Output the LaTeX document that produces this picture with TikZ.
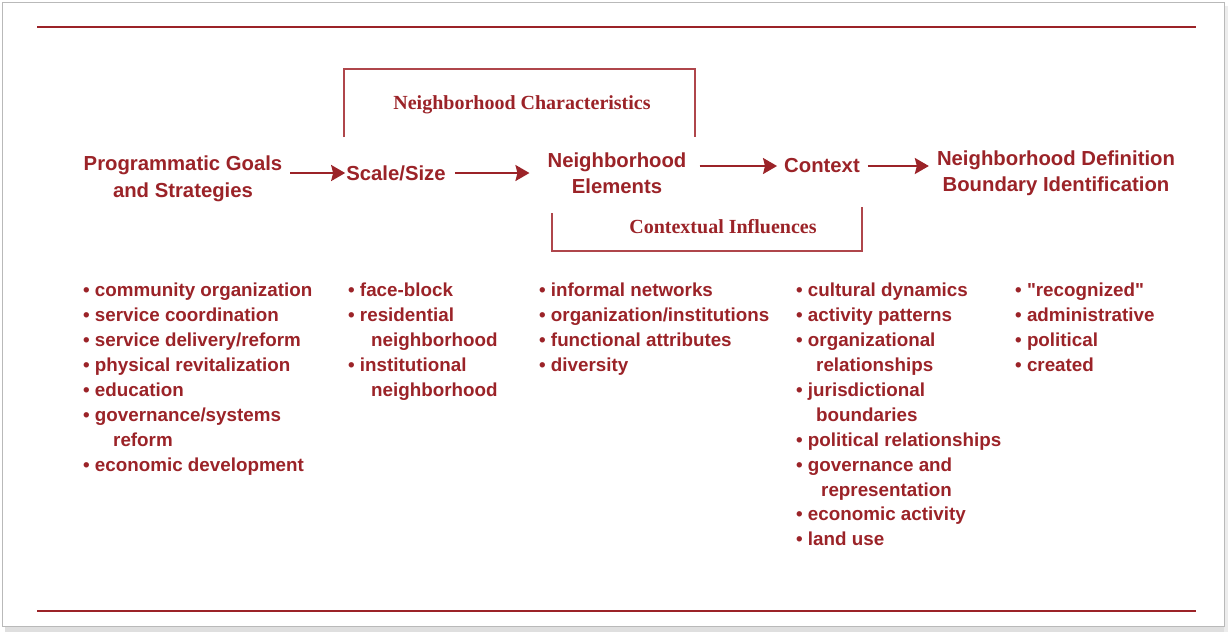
\documentclass[tikz,border=0pt]{standalone}
\usepackage{fontspec}
\setmainfont{Liberation Sans}[Ligatures=TeXOff]
\newfontfamily\serifb{Liberation Serif}
\usetikzlibrary{arrows.meta}
\definecolor{dred}{RGB}{155,35,40}
\definecolor{lred}{RGB}{175,70,75}
\begin{document}
\begin{tikzpicture}[x=1pt,y=-1pt,
  head/.style={font=\fontsize{20.3}{26.5}\selectfont\bfseries, text=dred, align=center, inner sep=0pt},
  lab/.style={font=\fontsize{20}{22}\serifb\bfseries, text=dred, inner sep=0pt},
  lst/.style={font=\fontsize{18.8}{24.9}\selectfont\bfseries, text=dred, align=left, anchor=north west, inner sep=0pt},
  arr/.style={draw=dred, line width=2pt, -{Stealth[length=14pt,width=16pt,inset=2pt]}},
  rulel/.style={draw=dred, line width=2.3pt},
  brk/.style={draw=lred, line width=1.4pt}]
\useasboundingbox (0,0) rectangle (1228,633);
\fill[white] (0,0) rectangle (1228,633);
% frame and shadow
\fill[gray!25] (5,627) rectangle (1227,632);
\fill[gray!15] (1224,6) rectangle (1228,632);
\draw[gray!55, line width=1pt] (2.5,2.5) rectangle (1224,626.5);
% rules
\draw[rulel] (37,27) -- (1196,27);
\draw[rulel] (37,611) -- (1196,611);
% bracket labels
\node[lab] (nc) at (522,104.5) {Neighborhood Characteristics};
\node[lab] (ci) at (723,226.5) {Contextual Influences};
\draw[brk] (344,137) -- (344,69) -- (695,69) -- (695,137);
\draw[brk] (552,213) -- (552,251) -- (862,251) -- (862,207);
% main flow
\node[head] (pg) at (183,179) {Programmatic Goals\\and Strategies};
\node[head] (ss) at (396,173) {Scale/Size};
\node[head] (ne) at (617,173) {Neighborhood\\Elements};
\node[head] (ctx) at (822,166) {Context};
\node[head] (nd) at (1056,173) {Neighborhood Definition\\Boundary Identification};
\draw[arr, shorten <=8pt, shorten >=1pt] (pg.east |- ss.west) -- (ss.west);
\draw[arr, shorten <=9pt, shorten >=18pt] (ss.east) -- (ne.west |- ss.east);
\draw[arr, shorten <=13pt, shorten >=7pt] (ne.east |- ctx.west) -- (ctx.west);
\draw[arr, shorten <=8pt, shorten >=8pt] (ctx.east) -- (nd.west |- ctx.east);
% lists
\node[lst] (l1) at (83,283) {• community organization\\• service coordination\\• service delivery/reform\\• physical revitalization\\• education\\• governance/systems\\\hspace*{30pt}reform\\• economic development};
\node[lst] (l2) at (348,283) {• face-block\\• residential\\\hspace*{23pt}neighborhood\\• institutional\\\hspace*{23pt}neighborhood};
\node[lst] (l3) at (539,283) {• informal networks\\• organization/institutions\\• functional attributes\\• diversity};
\node[lst] (l4) at (796,283) {• cultural dynamics\\• activity patterns\\• organizational\\\hspace*{20pt}relationships\\• jurisdictional\\\hspace*{20pt}boundaries\\• political relationships\\• governance and\\\hspace*{25pt}representation\\• economic activity\\• land use};
\node[lst] (l5) at (1015,283) {• "recognized"\\• administrative\\• political\\• created};
\end{tikzpicture}
\end{document}
